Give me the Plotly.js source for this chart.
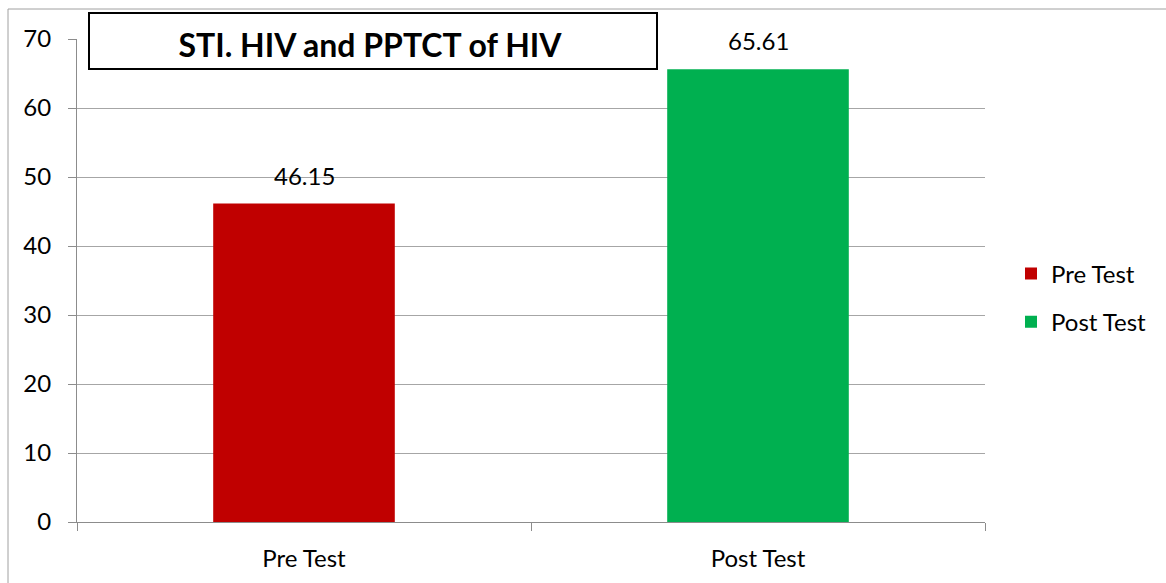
<!DOCTYPE html>
<html>
<head>
<meta charset="utf-8">
<script src="https://cdn.plot.ly/plotly-3.0.1.min.js"></script>
<style>html,body{margin:0;padding:0;background:#fff;}#chart{width:1166px;height:583px;}</style>
</head>
<body>
<div id="chart"></div>
<script>
const categories = ["Pre Test", "Post Test"];
const seriesNames = ["Pre Test", "Post Test"];
const values = [46.15, 65.61];
const colors = ["#C00000", "#00B050"];
const yTicks = [0, 10, 20, 30, 40, 50, 60, 70];
const chartTitle = "STI. HIV and PPTCT of HIV";

const FONT = "Lato, 'Noto Sans', sans-serif";
const FS = 24;

const traces = categories.map((c, i) => ({
  type: "bar",
  name: seriesNames[i],
  x: [c],
  y: [values[i]],
  width: 0.4,
  marker: {color: colors[i], line: {width: 0}},
  legendgroup: "g" + i,
  hoverinfo: "x+y"
}));

const annotations = categories.map((c, i) => ({
  x: c, y: values[i], xref: "x", yref: "y",
  text: values[i].toFixed(2),
  showarrow: false, yanchor: "bottom", yshift: 12,
  font: {family: FONT, size: FS, color: "#000"}
}));

const layout = {
  width: 1166, height: 583, autosize: false,
  paper_bgcolor: "#fff", plot_bgcolor: "#fff",
  margin: {l: 77, r: 181, t: 39, b: 61, pad: 0},
  barmode: "overlay",
  font: {family: FONT, size: FS, color: "#000"},
  title: {
    text: "<b>" + chartTitle + "</b>",
    font: {family: FONT, size: 32, color: "#000"},
    xref: "paper", x: (370 - 77) / 908, xanchor: "center",
    yref: "container", y: 1 - 46 / 583, yanchor: "middle"
  },
  xaxis: {
    type: "category", range: [-0.5, 1.5],
    showline: true, linecolor: "#8c8c8c", linewidth: 1,
    ticks: "outside", tickson: "boundaries", ticklen: 8, tickcolor: "#8c8c8c",
    showgrid: false, zeroline: false,
    tickfont: {family: FONT, size: FS, color: "#000"},
    ticklabelstandoff: 15,
    fixedrange: true
  },
  yaxis: {
    range: [0, 70], tickvals: yTicks,
    showline: true, linecolor: "#8c8c8c", linewidth: 1,
    ticks: "outside", ticklen: 8, tickcolor: "#8c8c8c",
    showgrid: true, gridcolor: "#a6a6a6", gridwidth: 1,
    zeroline: false,
    tickfont: {family: FONT, size: FS, color: "#000"},
    ticklabelstandoff: 12,
    fixedrange: true
  },
  showlegend: true,
  legend: {
    x: (1011 - 77) / 908, xanchor: "left",
    y: (522 - 298) / 483, yanchor: "middle",
    traceorder: "grouped", tracegroupgap: 14,
    font: {family: FONT, size: FS, color: "#000"},
    bgcolor: "rgba(0,0,0,0)", borderwidth: 0
  },
  annotations: annotations,
  shapes: [
    {type: "rect", xref: "paper", yref: "paper", layer: "below",
     x0: (8 - 77) / 908, x1: (1175 - 77) / 908,
     y0: (522 - 600) / 483, y1: (522 - 9) / 483,
     line: {color: "#a0a0a0", width: 1}, fillcolor: "rgba(0,0,0,0)"},
    {type: "rect", xref: "paper", yref: "paper", layer: "above",
     x0: (89 - 77) / 908, x1: (657 - 77) / 908,
     y0: (522 - 69) / 483, y1: (522 - 13) / 483,
     line: {color: "#000", width: 2}, fillcolor: "#fff"}
  ]
};

Plotly.newPlot("chart", traces, layout, {displayModeBar: false, staticPlot: true});
</script>
</body>
</html>
